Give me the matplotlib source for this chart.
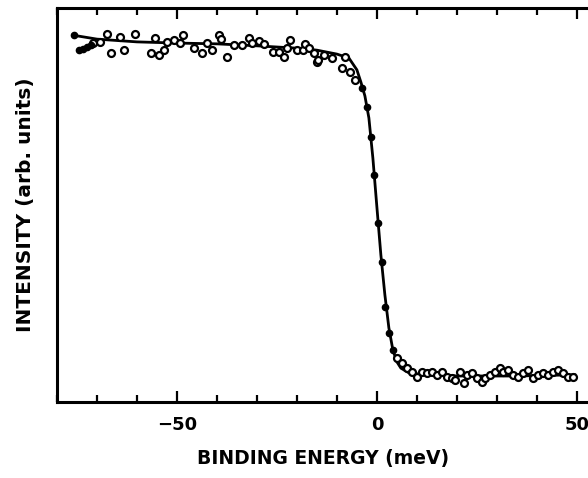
import matplotlib.pyplot as plt
from matplotlib.ticker import MultipleLocator

# open circles (plateau data)
open_e = [-70.9, -69.2, -67.4, -66.4, -64.2, -63.2, -60.4, -56.4, -55.4, -54.4,
          -53.2, -52.4, -50.7, -49.2, -48.4, -45.7, -43.7, -42.4, -41.2, -39.4,
          -38.9, -37.4, -35.7, -33.7, -31.9, -31.2, -29.4, -28.2, -25.9, -24.4,
          -23.2, -22.4, -21.7, -19.9, -18.4, -17.9, -16.9, -15.7, -14.9, -14.7,
          -13.2, -11.2, -8.7, -7.9, -6.7, -5.4,
          5.1, 6.3, 7.6, 8.8, 10.1, 11.3, 12.6, 13.8, 15.1, 16.3,
          17.6, 18.8, 19.6, 20.8, 21.8, 22.6, 23.8, 25.1, 26.3, 27.1,
          28.3, 29.6, 30.8, 31.6, 32.8, 34.1, 35.3, 36.6, 37.8, 39.1,
          40.3, 41.6, 42.8, 44.1, 45.3, 46.6, 47.8, 49.1]
open_i = [0.911, 0.914, 0.934, 0.886, 0.926, 0.893, 0.934, 0.886, 0.924, 0.881,
          0.893, 0.914, 0.919, 0.911, 0.931, 0.898, 0.886, 0.911, 0.893, 0.931,
          0.921, 0.876, 0.906, 0.906, 0.924, 0.911, 0.916, 0.909, 0.888, 0.888,
          0.876, 0.898, 0.919, 0.893, 0.893, 0.909, 0.898, 0.886, 0.863, 0.868,
          0.881, 0.873, 0.848, 0.876, 0.838, 0.817,
          0.112, 0.099, 0.086, 0.076, 0.063, 0.076, 0.074, 0.076, 0.069, 0.076,
          0.063, 0.061, 0.056, 0.076, 0.048, 0.069, 0.074, 0.061, 0.051, 0.061,
          0.069, 0.076, 0.086, 0.076, 0.081, 0.069, 0.063, 0.074, 0.081, 0.061,
          0.069, 0.074, 0.069, 0.076, 0.081, 0.074, 0.063, 0.063]

# filled dots
filled_e = [-75.7, -74.4, -73.4, -72.4, -71.4,
            -3.7, -2.4, -1.4, -0.7, 0.3, 1.3, 2.1, 3.1, 4.1]
filled_i = [0.931, 0.893, 0.896, 0.901, 0.906,
            0.797, 0.749, 0.673, 0.576, 0.454, 0.355, 0.241, 0.175, 0.132]

# fitted curve
fit_e = [-76, -70, -60, -50, -40, -30, -20, -15, -10, -7, -5, -4, -3, -2, -1,
         0, 1, 2, 3, 4, 5, 6, 8, 12, 20, 35, 49.5]
fit_i = [0.931, 0.921, 0.914, 0.911, 0.909, 0.904, 0.898, 0.893, 0.883, 0.873,
         0.843, 0.812, 0.777, 0.721, 0.619, 0.495, 0.373, 0.272, 0.188, 0.132,
         0.102, 0.086, 0.074, 0.069, 0.066, 0.066, 0.069]


def main():
    fig = plt.figure(figsize=(5.88, 4.78), dpi=100)
    ax = fig.add_axes([57 / 588, 76 / 478, 533 / 588, 394 / 478])

    ax.plot(fit_e, fit_i, color='black', linewidth=2.0, zorder=2)
    ax.plot(open_e, open_i, 'o', markersize=5, markerfacecolor='white',
            markeredgecolor='black', markeredgewidth=1.6, linestyle='none', zorder=3)
    ax.plot(filled_e, filled_i, 'o', markersize=4.5, color='black',
            linestyle='none', zorder=4)

    ax.set_xlim(-80, 53.3)
    ax.set_ylim(0, 1.0)

    ax.xaxis.set_major_locator(MultipleLocator(50))
    ax.xaxis.set_minor_locator(MultipleLocator(10))
    ax.set_yticks([])
    ax.tick_params(axis='x', which='both', direction='in', top=True, bottom=True,
                   width=1.6, labelsize=13, pad=10)
    ax.tick_params(axis='x', which='major', length=8)
    ax.tick_params(axis='x', which='minor', length=5)
    for lab in ax.get_xticklabels():
        lab.set_fontweight('bold')

    for side in ['left', 'bottom', 'top']:
        ax.spines[side].set_linewidth(2.2)
    ax.spines['right'].set_visible(False)

    ax.set_xlabel('BINDING ENERGY (meV)', fontsize=13.5, fontweight='bold', labelpad=11)
    ax.set_ylabel('INTENSITY (arb. units)', fontsize=14.5, fontweight='bold', labelpad=16)

    fig.savefig('out.png', dpi=100)


if __name__ == "__main__":
    main()
